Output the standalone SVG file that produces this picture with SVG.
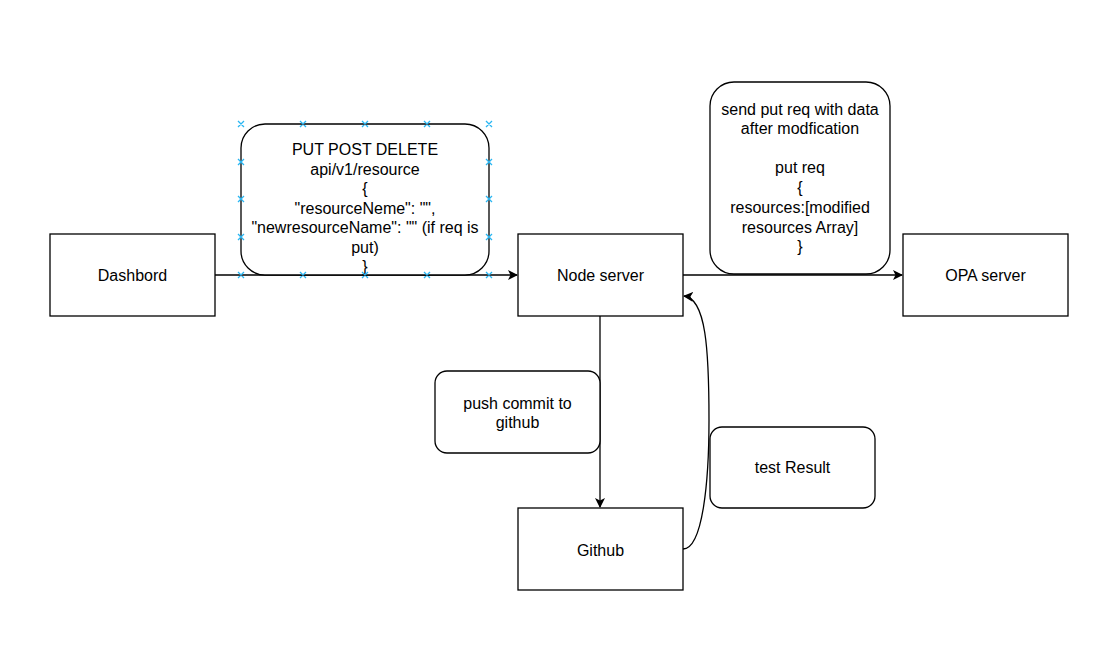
<svg xmlns="http://www.w3.org/2000/svg" width="1116" height="653" viewBox="0 0 1116 653">
<style>
.box{fill:#fff;stroke:#000;stroke-width:1.3}
.edge{fill:none;stroke:#000;stroke-width:1.3}
text{font-family:"Liberation Sans",Arial,sans-serif;font-size:16px;fill:#000;text-anchor:middle}
.h{stroke:#29b6f2;stroke-width:1.3}
</style>
<defs>
<marker id="arr" viewBox="0 0 10 10" refX="9" refY="5" markerWidth="10" markerHeight="10" markerUnits="userSpaceOnUse" orient="auto">
<path d="M0,0 L10,5 L0,10 L2.5,5 Z" fill="#000"/>
</marker>
</defs>
<rect width="1116" height="653" fill="#fff"/>
<g id="connectors">
<path class="edge" d="M215,275 H517" marker-end="url(#arr)"/>
<path class="edge" d="M683,275 H902" marker-end="url(#arr)"/>
<path class="edge" d="M600,316 V507" marker-end="url(#arr)"/>
<path class="edge" d="M683,549 C703,549 709,480 709,420 C709,350 706,298 684,296" marker-end="url(#arr)"/>
</g>
<g id="dashbord"><rect class="box" x="50" y="234" width="165" height="82"/><text x="132.5" y="280.5">Dashbord</text></g>
<g id="node-server"><rect class="box" x="518" y="234" width="165" height="82"/><text x="600.5" y="280.5">Node server</text></g>
<g id="opa-server"><rect class="box" x="903" y="234" width="165" height="82"/><text x="985.5" y="280.5">OPA server</text></g>
<g id="github"><rect class="box" x="518" y="508" width="165" height="82"/><text x="600.5" y="555.5">Github</text></g>
<g id="label-request"><rect class="box" x="241" y="124" width="248" height="151" rx="24" ry="24"/>
<text x="365"><tspan x="365" y="155">PUT POST DELETE</tspan><tspan x="365" y="174.5">api/v1/resource</tspan><tspan x="365" y="194">{</tspan><tspan x="365" y="213.5">"resourceNeme": "",</tspan><tspan x="365" y="233">"newresourceName": "" (if req is</tspan><tspan x="365" y="252.5">put)</tspan><tspan x="365" y="272">}</tspan></text></g>
<g id="label-put"><rect class="box" x="710" y="82" width="180" height="192" rx="24" ry="24"/>
<text x="800"><tspan x="800" y="114.5">send put req with data</tspan><tspan x="800" y="134">after modfication</tspan><tspan x="800" y="173">put req</tspan><tspan x="800" y="192.5">{</tspan><tspan x="800" y="213">resources:[modified</tspan><tspan x="800" y="232.5">resources Array]</tspan><tspan x="800" y="252">}</tspan></text></g>
<g id="label-push"><rect class="box" x="435" y="371" width="165" height="82" rx="12" ry="12"/><text x="517.5"><tspan x="517.5" y="408.5">push commit to</tspan><tspan x="517.5" y="428">github</tspan></text></g>
<g id="label-test"><rect class="box" x="710" y="427" width="165" height="81" rx="12" ry="12"/><text x="792.5" y="472.5">test Result</text></g>
<g id="handles" class="h">
<path d="M238,121l6,6M244,121l-6,6M300,121l6,6M306,121l-6,6M362,121l6,6M368,121l-6,6M424,121l6,6M430,121l-6,6M486,121l6,6M492,121l-6,6"/>
<path d="M238,272l6,6M244,272l-6,6M300,272l6,6M306,272l-6,6M362,272l6,6M368,272l-6,6M424,272l6,6M430,272l-6,6M486,272l6,6M492,272l-6,6"/>
<path d="M238,159l6,6M244,159l-6,6M238,196l6,6M244,196l-6,6M238,234l6,6M244,234l-6,6"/>
<path d="M486,159l6,6M492,159l-6,6M486,196l6,6M492,196l-6,6M486,234l6,6M492,234l-6,6"/>
</g>
</svg>
